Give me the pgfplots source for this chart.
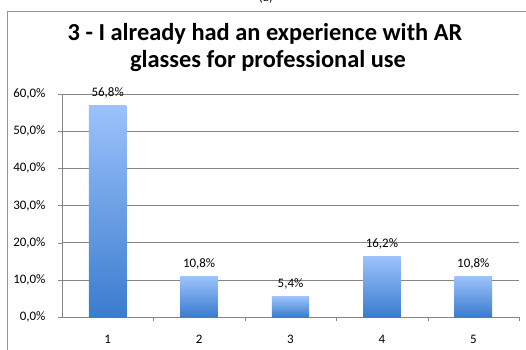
\documentclass[border=0pt]{standalone}
\usepackage{pgfplots}
\pgfplotsset{compat=1.18}
\usepackage{fontspec}
\setmainfont{Carlito}
\definecolor{barTop}{RGB}{155,194,252}
\definecolor{barBot}{RGB}{58,124,206}
\definecolor{gridc}{RGB}{134,134,134}
\definecolor{framec}{RGB}{150,150,150}
\begin{document}
\begin{tikzpicture}[x=1bp,y=1bp]
\clip (0,0) rectangle (526,349);
\path[use as bounding box] (0,0) rectangle (526,349);
\draw[framec, line width=1bp] (7,-10) -- (7,337) -- (540,337);
\node[font=\fontsize{13}{15}\selectfont, anchor=base] at (266,347.5) {(a)};
\node[font=\fontsize{24.5}{27}\selectfont\bfseries, anchor=base] at (265,309) {3 - I already had an experience with AR};
\node[font=\fontsize{24.5}{27}\selectfont\bfseries, anchor=base] at (268,282) {glasses for professional use};
\pgfplotsset{bar1/.style={draw=none, top color=barTop, bottom color=barBot, bar shift=0pt}}
\begin{axis}[
  at={(62bp,32bp)}, anchor=origin,
  scale only axis, width=457bp, height=223bp,
  xmin=0.5, xmax=5.5, ymin=0, ymax=60,
  ybar, bar width=0.41,
  xtick={1,2,3,4,5},
  minor xtick={1.5,2.5,3.5,4.5,5.5},
  major x tick style={draw=none},
  minor x tick style={gridc},
  ytick={0,10,20,30,40,50,60},
  ymajorgrids, grid style={gridc, line width=0.6bp},
  axis x line*=bottom, axis y line*=left,
  axis line style={gridc, line width=0.6bp},
  y tick style={gridc},
  tick align=outside,
  major tick length=4bp, minor tick length=4bp,
  /pgf/number format/assume math mode=true,
  tick label style={font=\fontsize{13}{15}\selectfont},
  yticklabel={\pgfmathprintnumber[fixed,fixed zerofill,precision=1,use comma]{\tick}\%},
  yticklabel style={xshift=-9bp},
  xticklabel style={yshift=-11bp},
  nodes near coords={\pgfmathprintnumber[fixed,fixed zerofill,precision=1,use comma]{\pgfplotspointmeta}\%},
  nodes near coords style={font=\fontsize{13}{15}\selectfont, yshift=4bp},
  clip=false,
]
\addplot[bar1] coordinates {(1,56.8)};
\addplot[bar1] coordinates {(2,10.8)};
\addplot[bar1] coordinates {(3,5.4)};
\addplot[bar1] coordinates {(4,16.2)};
\addplot[bar1] coordinates {(5,10.8)};
\end{axis}
\end{tikzpicture}
\end{document}
